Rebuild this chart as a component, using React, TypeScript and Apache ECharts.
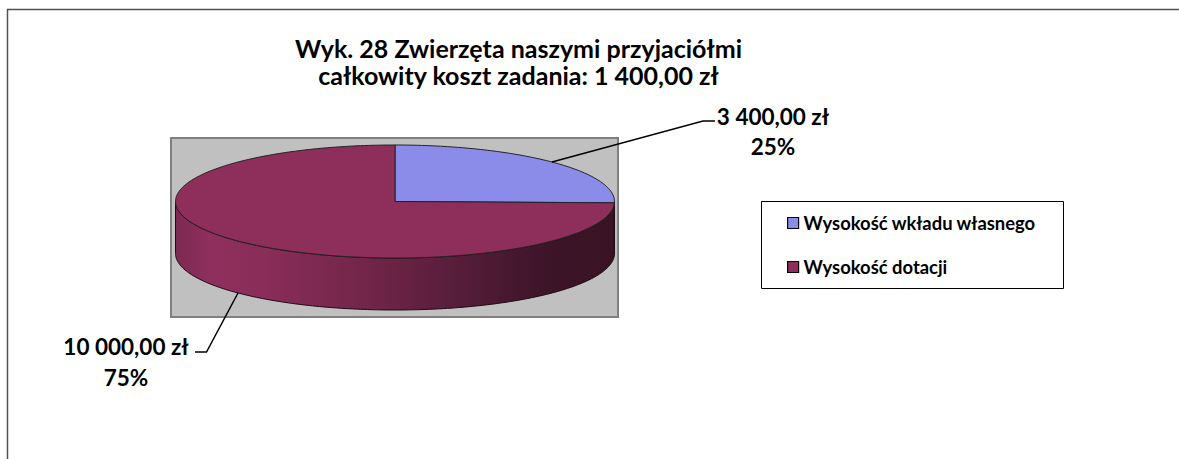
import React, { useEffect, useRef } from 'react';
import * as echarts from 'echarts';

// ---- data ----
const TITLE_LINES = ['Wyk. 28 Zwierzęta naszymi przyjaciółmi', 'całkowity koszt zadania: 1 400,00 zł'];
const CATEGORIES = ['Wysokość wkładu własnego', 'Wysokość dotacji'];
const VALUES = [3400, 10000];

// ---- styles / layout ----
const COLORS = ['#8B8BEA', '#8E2E5A'];
const SIDE_STOPS = [
  [
    [0, '#6f6fc0'],
    [1, '#3a3a70'],
  ],
  [
    [0, '#7c2952'],
    [0.08, '#8f2f5d'],
    [0.2, '#8a2d59'],
    [0.45, '#702548'],
    [0.72, '#4c1a34'],
    [0.85, '#3d1428'],
    [1, '#391323'],
  ],
];
const PIE = { cx: 395, cy: 201.5, rx: 219.5, ry: 56.5, depth: 52 };
const LABELS = [
  { elbow: [703, 121], end: [715, 121], tx: 773, ty1: 116, ty2: 146 },
  { elbow: [206.5, 352], end: [195, 352], tx: 126, ty1: 346, ty2: 377 },
];
const FONT = 'Lato';

const TOTAL = VALUES.reduce((a, b) => a + b, 0);
const START = VALUES.map((_, i) => VALUES.slice(0, i).reduce((a, b) => a + b, 0));

function fmtMoney(v: number): string {
  const [ip, dp] = v.toFixed(2).split('.');
  return ip.replace(/\B(?=(\d{3})+(?!\d))/g, ' ') + ',' + dp + ' zł';
}
function fmtPct(v: number): string {
  return Math.round((v / TOTAL) * 100) + '%';
}
function ellPt(deg: number, dy = 0): number[] {
  const r = (deg * Math.PI) / 180;
  return [PIE.cx + PIE.rx * Math.cos(r), PIE.cy + dy + PIE.ry * Math.sin(r)];
}
function arcPts(a0: number, a1: number, dy: number): number[][] {
  const n = Math.max(2, Math.ceil(Math.abs(a1 - a0)));
  const pts: number[][] = [];
  for (let k = 0; k <= n; k++) pts.push(ellPt(a0 + ((a1 - a0) * k) / n, dy));
  return pts;
}

function textEl(text: string, x: number, y: number, size: number, align = 'center') {
  return {
    type: 'text',
    style: {
      text,
      x,
      y,
      fill: '#000',
      fontFamily: FONT,
      fontWeight: 'bold',
      fontSize: size,
      textAlign: align,
      textVerticalAlign: 'middle',
      align,
      verticalAlign: 'middle',
    },
  };
}

export default function App() {
  const ref = useRef<HTMLDivElement>(null);
  useEffect(() => {
    if (!ref.current) return;
    const chart = echarts.init(ref.current, undefined, { renderer: 'svg' });

    const renderItem = (params: any, api: any) => {
      const i = params.seriesIndex;
      const v = api.value(0);
      const a0 = -90 + (START[i] / TOTAL) * 360;
      const a1 = a0 + (v / TOTAL) * 360;
      const children: any[] = [];
      const s = Math.max(a0, 0);
      const e = Math.min(a1, 180);
      if (e > s) {
        children.push({
          type: 'polygon',
          shape: { points: [...arcPts(s, e, 0), ...arcPts(e, s, PIE.depth)] },
          style: {
            fill: new echarts.graphic.LinearGradient(
              PIE.cx - PIE.rx, 0, PIE.cx + PIE.rx, 0,
              SIDE_STOPS[i].map(([offset, color]) => ({ offset: offset as number, color: color as string })),
              true
            ),
            stroke: '#1e0a14',
            lineWidth: 1,
          },
        });
      }
      children.push({
        type: 'polygon',
        shape: { points: [[PIE.cx, PIE.cy], ...arcPts(a0, a1, 0)] },
        style: { fill: COLORS[i], stroke: '#222', lineWidth: 1 },
      });
      const mid = (a0 + a1) / 2;
      const midN = ((mid % 360) + 360) % 360;
      const front = midN > 0 && midN < 180;
      const anchor = ellPt(mid, front ? PIE.depth : 0);
      const L = LABELS[i];
      children.push({
        type: 'polyline',
        shape: { points: [anchor, L.elbow, L.end] },
        style: { stroke: '#000', lineWidth: 1.5, fill: null },
      });
      children.push(textEl(fmtMoney(v), L.tx, L.ty1, 22.5));
      children.push(textEl(fmtPct(v), L.tx, L.ty2, 22.5));
      return { type: 'group', children };
    };

    chart.setOption({
      animation: false,
      backgroundColor: '#ffffff',
      legend: {
        orient: 'vertical',
        left: 787,
        top: 212,
        padding: 0,
        itemGap: 22,
        itemWidth: 11,
        itemHeight: 11,
        icon: 'rect',
        selectedMode: false,
        itemStyle: { borderColor: '#000', borderWidth: 1.2 },
        textStyle: { fontFamily: FONT, fontWeight: 'bold', fontSize: 18.4, lineHeight: 22, color: '#000' },
        data: CATEGORIES,
      },
      graphic: [
        {
          type: 'rect',
          z: 0,
          shape: { x: 7.5, y: 9.5, width: 1300, height: 600 },
          style: { fill: '#fff', stroke: '#505050', lineWidth: 1.5 },
        },
        {
          type: 'rect',
          z: 1,
          shape: { x: 171, y: 138, width: 447, height: 179 },
          style: { fill: '#C0C0C0', stroke: '#808080', lineWidth: 2 },
        },
        {
          type: 'rect',
          z: 1,
          shape: { x: 761.5, y: 201.5, width: 302, height: 87 },
          style: { fill: '#fff', stroke: '#000', lineWidth: 1 },
        },
        { ...textEl(TITLE_LINES[0], 518.5, 47.5, 25), z: 5 },
        { ...textEl(TITLE_LINES[1], 518.5, 75, 25), z: 5 },
      ],
      series: CATEGORIES.map((name, i) => ({
        type: 'custom',
        name,
        coordinateSystem: 'none',
        itemStyle: { color: COLORS[i] },
        data: [VALUES[i]],
        renderItem,
        z: 3,
      })),
    });
    return () => chart.dispose();
  }, []);
  return (
    <div
      ref={ref}
      style={{ position: 'absolute', left: 0, top: 0, width: 1179, height: 459, background: '#fff' }}
    />
  );
}
